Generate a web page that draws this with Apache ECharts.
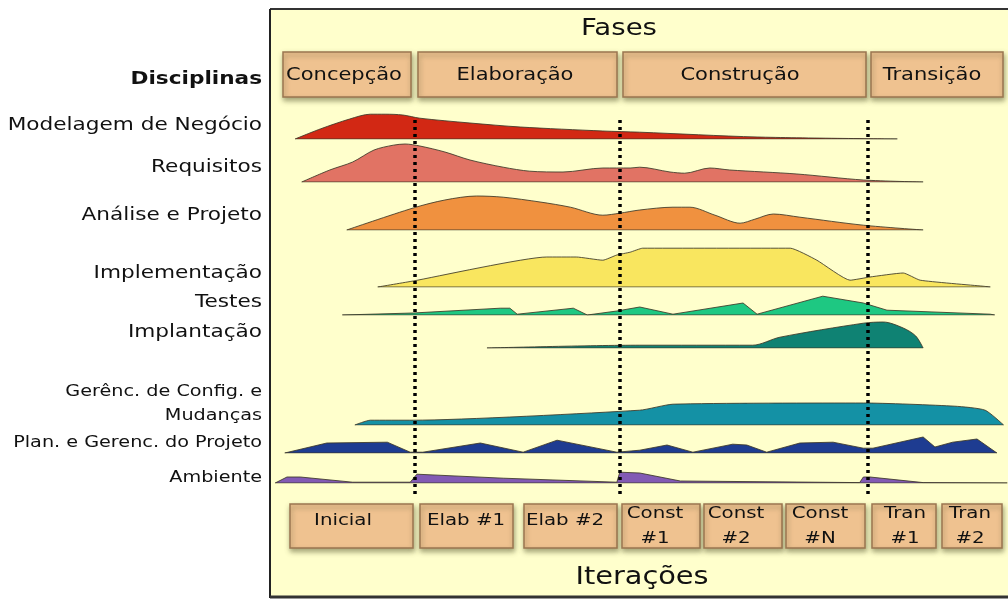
<!DOCTYPE html>
<html><head><meta charset="utf-8">
<script src="https://cdn.jsdelivr.net/npm/echarts@6/dist/echarts.min.js"></script>
<style>html,body{margin:0;padding:0;background:#fff}#c{width:1008px;height:599px}</style>
</head><body><div id="c"></div>
<script>
// ---------- DATA ----------
const disciplineLabels = ['Modelagem de Negócio','Requisitos','Análise e Projeto','Implementação','Testes','Implantação','Gerênc. de Config. e\nMudanças','Plan. e Gerenc. do Projeto','Ambiente'];
const phaseNames = ['Concepção','Elaboração','Construção','Transição'];
const iterationNames = ['Inicial','Elab #1','Elab #2','Const\n#1','Const\n#2','Const\n#N','Tran\n#1','Tran\n#2'];
const phaseBoundaries = [19.6, 47.4, 81.0]; // project time, %
// [time %, effort intensity]
const modelagem = [[3.4,0],[6.8,25],[10.8,50],[13.6,62],[15.6,62],[18.0,60],[20.3,52],[27.1,40],[33.9,30],[45.1,20],[50.1,17],[66.0,5],[85.0,0]];
const requisitos = [[4.3,0],[8.1,30],[11.2,50],[14.1,80],[16.7,92],[18.3,95],[20.3,90],[23.7,75],[27.1,55],[31.6,37],[35.2,27],[39.7,25],[45.1,35],[48.8,35],[50.1,37],[54.2,25],[56.2,22],[59.6,35],[62.3,30],[71.4,20],[80.4,5],[88.5,0]];
const analise = [[10.4,0],[19.4,55],[23.7,75],[28.0,85],[31.6,82],[36.6,70],[40.7,57],[45.1,37],[47.4,42],[50.1,50],[54.6,57],[56.9,57],[60.3,37],[63.7,17],[65.7,27],[68.2,40],[71.8,32],[80.4,12],[88.5,0]];
const implementacao = [[14.6,0],[19.4,15],[37.5,75],[41.5,75],[45.1,67],[47.0,80],[48.8,87],[50.5,97],[70.5,97],[74.1,67],[78.6,17],[81.3,25],[85.8,35],[88.1,17],[96.6,2],[97.6,0]];
const testes = [[9.8,0],[19.4,5],[31.2,17],[32.5,17],[33.5,2],[41.1,17],[43.0,0],[47.0,10],[50.1,20],[54.6,2],[64.1,30],[66.0,2],[74.9,47],[80.4,30],[83.6,12],[97.6,2],[98.2,0]];
const implantacao = [[29.4,0],[50.1,7],[65.4,7],[69.1,27],[80.4,62],[83.1,65],[85.8,50],[87.5,30],[88.5,0]];
const configuracao = [[11.5,0],[13.6,12],[19.4,12],[50.1,37],[54.6,52],[80.4,55],[92.8,47],[96.9,37],[99.4,0]];
const gerenciamento = [[2.0,0],[7.7,25],[15.9,27],[19.0,2],[20.7,2],[28.5,25],[34.3,2],[38.9,32],[47.0,2],[50.1,7],[53.8,20],[57.3,2],[62.7,22],[64.6,20],[67.3,2],[71.8,25],[76.3,27],[80.4,12],[81.7,12],[88.5,40],[90.1,15],[92.5,27],[95.8,35],[98.5,0]];
const ambiente = [[0.7,0],[2.3,15],[4.1,15],[11.2,2],[19.0,2],[19.9,22],[31.6,12],[47.0,2],[47.4,27],[50.1,25],[55.6,5],[79.9,1],[80.4,15],[81.3,15],[88.5,1],[99.9,0]];

const seriesData = [modelagem, requisitos, analise, implementacao, testes, implantacao, configuracao, gerenciamento, ambiente];

// ---------- STYLE / LAYOUT ----------
const colors = ['#D22814','#E17364','#F0913F','#F9E65F','#1EC882','#0F8273','#1491A5','#1E3C91','#825AB4'];
const smoothness = [0.3,0.3,0.3,0.15,0,0.3,0.2,0,0];
const baselines = [139,182,230,287,315,348,425,453,483];
const labelY = [125,167,215,273,302,332,404,443,478];
const labelSize = [18,18,18,18,18,18,16,16,16];
const BAND = 40;
const PLEFT = 270, PWIDTH = 738;
const FONT = '"DejaVu Sans", Verdana, sans-serif';
const SX = 1.2;

const chart = echarts.init(document.getElementById('c'), null, {renderer:'canvas'});

const grids = [], xAxes = [], yAxes = [], series = [];
seriesData.forEach((d, i) => {
  grids.push({left: PLEFT, width: PWIDTH, top: baselines[i] - BAND, height: BAND});
  xAxes.push({type:'value', gridIndex:i, min:0, max:100, show:false});
  yAxes.push({type:'value', gridIndex:i, min:0, max:100, show:false});
  series.push({
    type:'line', xAxisIndex:i, yAxisIndex:i, data:d, smooth:smoothness[i],
    showSymbol:false, symbol:'none', silent:true,
    lineStyle:{color:'rgba(60,55,40,0.85)', width:1},
    areaStyle:{color:colors[i], opacity:1}
  });
  series.push({
    type:'line', xAxisIndex:i, yAxisIndex:i,
    data:[[d[0][0],0],[d[d.length-1][0],0]],
    showSymbol:false, symbol:'none', silent:true,
    lineStyle:{color:'rgba(60,55,40,0.85)', width:1}
  });
});
// dotted phase boundary lines
const gi = seriesData.length;
grids.push({left: PLEFT, width: PWIDTH, top: 116, height: 378});
xAxes.push({type:'value', gridIndex:gi, min:0, max:100, show:false});
yAxes.push({type:'value', gridIndex:gi, min:0, max:1, show:false});
series.push({
  type:'line', xAxisIndex:gi, yAxisIndex:gi, data:[[0,0]], symbol:'none', silent:true, z:20,
  lineStyle:{opacity:0},
  markLine:{symbol:['none','none'], silent:true, label:{show:false}, animation:false,
    lineStyle:{color:'#000', width:3.5, type:[3,4], cap:'butt'},
    data: phaseBoundaries.map(v => ({xAxis:v}))}
});

// ---------- DECORATION ----------
const graphic = [];
graphic.push({type:'rect', z:-5, shape:{x:270, y:9, width:738, height:589}, style:{fill:'#FFFFCC'}});
graphic.push({type:'line', z:50, shape:{x1:270, y1:9, x2:1008, y2:9}, style:{stroke:'#333', lineWidth:2}});
graphic.push({type:'line', z:50, shape:{x1:270, y1:9, x2:270, y2:598}, style:{stroke:'#222', lineWidth:2}});
graphic.push({type:'line', z:50, shape:{x1:270, y1:597, x2:1008, y2:597}, style:{stroke:'#333', lineWidth:3}});

const boxStyle = {fill:'#EFC290', stroke:'#9A7650', lineWidth:1.5, shadowBlur:5, shadowColor:'rgba(90,90,50,0.55)', shadowOffsetX:1, shadowOffsetY:3};
function txt(text, x, y, size, align, bold, z){
  return {type:'text', x:x, y:y, scaleX:SX, originX:0, originY:0, z:z||60,
    style:{text:text, fill:'#111', font:(bold?'bold ':'')+size+'px '+FONT, align:align, verticalAlign:'middle', lineHeight:size+8}};
}
const phaseBoxes = [[283,52,128,45],[418,52,199,45],[623,52,243,45],[871,52,132,45]];
const phaseTextX = [344,515,740,932];
phaseBoxes.forEach((b,i)=>{
  graphic.push({type:'rect', z:30, shape:{x:b[0],y:b[1],width:b[2],height:b[3]}, style:boxStyle});
  graphic.push(txt(phaseNames[i], phaseTextX[i], 75, 17.5, 'center'));
});
const iterBoxes = [[290,504,123,44],[420,504,93,44],[524,504,93,44],[622,504,78,44],[704,504,78,44],[786,504,79,44],[872,504,64,44],[942,504,60,44]];
const iterTextX = [343,466,565,655,736,820,905,970];
iterBoxes.forEach((b,i)=>{
  graphic.push({type:'rect', z:30, shape:{x:b[0],y:b[1],width:b[2],height:b[3]}, style:boxStyle});
  graphic.push(txt(iterationNames[i], iterTextX[i], iterationNames[i].indexOf('\n')>=0 ? 526 : 521, 16.5, 'center'));
});
graphic.push(txt('Fases', 619, 29, 23, 'center'));
graphic.push(txt('Iterações', 642, 578, 24, 'center'));
graphic.push(txt('Disciplinas', 262, 79, 18, 'right', true));
disciplineLabels.forEach((l,i)=>{
  graphic.push(txt(l, 262, labelY[i], labelSize[i], 'right'));
});

chart.setOption({
  animation:false,
  backgroundColor:'#ffffff',
  grid:grids, xAxis:xAxes, yAxis:yAxes, series:series, graphic:graphic
});
</script></body></html>
